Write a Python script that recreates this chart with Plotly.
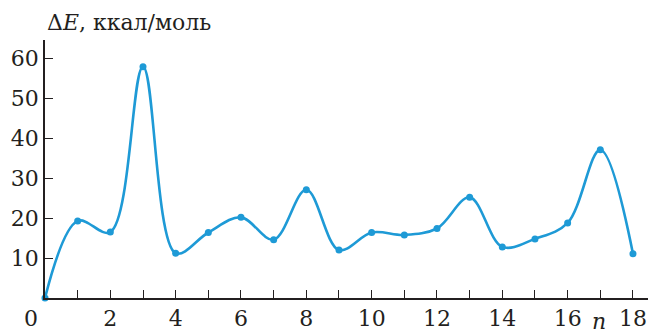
import plotly.graph_objects as go

# Energy difference per step n
n_values = list(range(0, 19))
delta_e = [0.0, 19.3, 16.5, 57.9, 11.2, 16.4, 20.2, 14.6, 27.1, 12.0,
           16.4, 15.8, 17.4, 25.2, 12.8, 14.8, 18.8, 37.1, 11.1]

x_tick_vals = list(range(0, 19))
x_tick_text = ["" if v % 2 or v == 0 else str(v) for v in x_tick_vals]
y_tick_vals = [10, 20, 30, 40, 50, 60]

blue = "#1e9ad6"
ink = "#231f20"
serif = "DejaVu Serif"
fsize = 22

fig = go.Figure()
fig.add_trace(go.Scatter(
    x=n_values, y=delta_e,
    mode="lines+markers",
    line=dict(color=blue, width=2.6, shape="spline", smoothing=1.0),
    marker=dict(color=blue, size=7),
    cliponaxis=False,
    showlegend=False,
))

axis_common = dict(
    ticks="inside", ticklen=8, tickwidth=1.3, tickcolor=ink,
    showline=True, linecolor=ink, linewidth=1.5,
    showgrid=False, zeroline=False, fixedrange=True,
    tickfont=dict(family=serif, size=fsize, color=ink),
)

fig.update_layout(
    width=648, height=333,
    margin=dict(l=45, r=0, t=40, b=35),
    paper_bgcolor="white", plot_bgcolor="white",
    font=dict(family=serif, size=fsize, color=ink),
    xaxis=dict(range=[0, 18.46], tickvals=x_tick_vals, ticktext=x_tick_text,
               **axis_common),
    yaxis=dict(range=[0, 64.6], tickvals=y_tick_vals, **axis_common),
    annotations=[
        dict(text="Δ<i>E</i>, ккал/моль", xref="paper", yref="paper",
             x=0, y=1, xanchor="left", yanchor="bottom", yshift=3,
             showarrow=False, font=dict(family=serif, size=fsize, color=ink)),
        dict(text="0", xref="paper", yref="paper", x=0, y=0,
             xanchor="center", yanchor="top", xshift=-14, yshift=-6,
             showarrow=False, font=dict(family=serif, size=fsize, color=ink)),
        dict(text="<i>n</i>", xref="x", yref="paper", x=16.95, y=0,
             xanchor="center", yanchor="top", yshift=-9,
             showarrow=False, font=dict(family=serif, size=fsize, color=ink)),
    ],
)

fig.write_html("out.html")
